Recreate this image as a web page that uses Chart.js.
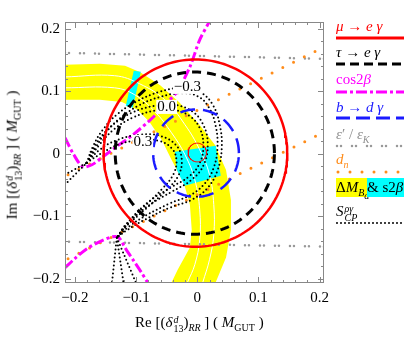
<!DOCTYPE html>
<html>
<head>
<meta charset="utf-8">
<script src="https://cdn.jsdelivr.net/npm/chart.js@4/dist/chart.umd.min.js"></script>
<style>
html, body { margin: 0; padding: 0; background: #fff; }
#wrap { position: relative; width: 406px; height: 343px; font-family: "Liberation Serif", "DejaVu Serif", serif; }
#wrap canvas { position: absolute; left: 0; top: 0; }
.lg { position: absolute; left: 336px; font-size: 15px; line-height: 16px; white-space: nowrap; }
.st { display: inline-flex; flex-direction: column; vertical-align: middle; font-size: 10px; line-height: 9px; margin-left: 1px; }
.ax { position: absolute; font-size: 15px; white-space: nowrap; }
sub, sup { font-size: 10px; line-height: 0; }
i { font-style: italic; }
</style>
</head>
<body>
<div id="wrap">
  <canvas id="grafico" width="406" height="343"></canvas>

  <div class="ax" style="left:135px;top:314px;">Re [(<i>δ</i><span class="st"><i>d</i><span>13</span></span>)<sub><i>RR</i></sub> ] ( <i>M</i><sub>GUT</sub> )</div>
  <div class="ax" style="left:13px;top:155px;transform:translate(-50%,-50%) rotate(-90deg);">Im [(<i>δ</i><span class="st"><i>d</i><span>13</span></span>)<sub><i>RR</i></sub> ] ( <i>M</i><sub>GUT</sub> )</div>

  <div class="lg" style="top:18px;color:#ff0000;"><i>μ</i> → <i>e γ</i></div>
  <div class="lg" style="top:44px;color:#000;"><i>τ</i> → <i>e γ</i></div>
  <div class="lg" style="top:71px;color:#ff00ff;">cos2<i>β</i></div>
  <div class="lg" style="top:99px;color:#1a1aff;"><i>b</i> → <i>d γ</i></div>
  <div class="lg" style="top:126px;color:#909090;"><i>ε</i>′ / <i>ε</i><sub><i>K</i></sub></div>
  <div class="lg" style="top:151px;color:#ff8c1a;"><i>d</i><sub><i>n</i></sub></div>
  <div class="lg" style="top:178px;height:19px;line-height:19px;"><span style="display:inline-block;width:31px;background:#ffff00;">Δ<i>M</i><sub><i>B<sub>d</sub></i></sub></span><span style="display:inline-block;width:37px;background:#00ffff;">&amp; s2<i>β</i></span></div>
  <div class="lg" style="top:203px;color:#000;"><i>S</i><span class="st"><i>ργ</i><i>CP</i></span></div>

  <svg style="position:absolute;left:0;top:0;" width="406" height="343">
    <line x1="336" y1="38" x2="404" y2="38" stroke="#ff0000" stroke-width="3"/>
    <line x1="336" y1="64" x2="404" y2="64" stroke="#000" stroke-width="3" stroke-dasharray="9 5"/>
    <line x1="336" y1="92" x2="404" y2="92" stroke="#ff00ff" stroke-width="3" stroke-dasharray="11 3 3 3"/>
    <line x1="336" y1="118" x2="404" y2="118" stroke="#1a1aff" stroke-width="3" stroke-dasharray="14 6"/>
    <line x1="337" y1="146" x2="404" y2="146" stroke="#999" stroke-width="2.5" stroke-linecap="round" stroke-dasharray="0 4 0 11"/>
    <line x1="338" y1="172" x2="404" y2="172" stroke="#ff8c1a" stroke-width="3" stroke-linecap="round" stroke-dasharray="0 12"/>
    <line x1="337" y1="223" x2="404" y2="223" stroke="#000" stroke-width="2" stroke-linecap="round" stroke-dasharray="0 4"/>
  </svg>
</div>

<script>
// eixos
var xTicks = [-0.2, -0.1, 0, 0.1, 0.2];
var yTicks = [-0.2, -0.1, 0, 0.1, 0.2];
var tickText = ['\u22120.2', '\u22120.1', '0', '0.1', '0.2'];
var xRange = [-0.216, 0.207];
var yRange = [-0.207, 0.211];

// limites circulares (centro x, centro y, raio)
var muEgCircle = [-0.003, 0.001, 0.15];
var muEgSmall = [0.0, 0.002, 0.015];
var tauEgCircle = [-0.004, 0.001, 0.13];
var bdgCircle = [-0.002, 0.001, 0.07];

// eps'/eps_K
var epsTop = [{x: -0.216, y: 0.1616}, {x: 0.207, y: 0.152}];
var epsBottom = [{x: -0.216, y: -0.1408}, {x: 0.207, y: -0.1488}];

// d_n
var dnLine1 = [{x: -0.211, y: -0.0336}, {x: 0.205, y: 0.170}];
var dnLine2 = [{x: -0.211, y: -0.168}, {x: 0.205, y: 0.0336}];

// cos2beta
var cosUpper = [
    {x: -0.216, y: 0.0256}, {x: -0.2016, y: -0.0016}, {x: -0.187, y: -0.0208}, {x: -0.172, y: -0.0176},
    {x: -0.154, y: -0.0048}, {x: -0.130, y: 0.0128}, {x: -0.105, y: 0.0304}, {x: -0.073, y: 0.0576},
    {x: -0.050, y: 0.0816}, {x: -0.033, y: 0.0992}, {x: -0.012, y: 0.1392}, {x: 0.004, y: 0.1824},
    {x: 0.0195, y: 0.2112}
];
var cosLower = [
    {x: -0.216, y: -0.1824}, {x: -0.2, y: -0.168}, {x: -0.180, y: -0.152}, {x: -0.159, y: -0.1408},
    {x: -0.138, y: -0.1328}, {x: -0.128, y: -0.1344}, {x: -0.117, y: -0.152}, {x: -0.104, y: -0.1712},
    {x: -0.091, y: -0.1904}, {x: -0.079, y: -0.2096}
];

// Delta M_Bd (faixa amarela) e s2beta (ciano)
var bandOuter = [
    {x: -0.216, y: 0.1424}, {x: -0.159, y: 0.144}, {x: -0.118, y: 0.141}, {x: -0.094, y: 0.131},
    {x: -0.061, y: 0.110}, {x: -0.029, y: 0.082}, {x: 0.004, y: 0.046}, {x: 0.029, y: 0.014},
    {x: 0.047, y: -0.026}, {x: 0.055, y: -0.074}, {x: 0.055, y: -0.122}, {x: 0.047, y: -0.166},
    {x: 0.030, y: -0.206}
];
var bandInner = [
    {x: -0.216, y: 0.0864}, {x: -0.159, y: 0.0864}, {x: -0.123, y: 0.083}, {x: -0.097, y: 0.070},
    {x: -0.078, y: 0.051}, {x: -0.058, y: 0.022}, {x: -0.042, y: -0.0096}, {x: -0.022, y: -0.0464},
    {x: -0.012, y: -0.0816}, {x: -0.009, y: -0.122}, {x: -0.012, y: -0.150}, {x: -0.032, y: -0.1856},
    {x: -0.042, y: -0.206}
];
var bandWhiteA = [
    {x: -0.216, y: 0.123}, {x: -0.135, y: 0.125}, {x: -0.094, y: 0.112}, {x: -0.053, y: 0.0864},
    {x: -0.020, y: 0.0464}, {x: 0.004, y: 0.0064}, {x: 0.020, y: -0.0336}, {x: 0.027, y: -0.0816},
    {x: 0.027, y: -0.1296}, {x: 0.020, y: -0.1696}, {x: 0.009, y: -0.206}
];
var bandWhiteB = [
    {x: -0.216, y: 0.1056}, {x: -0.135, y: 0.1056}, {x: -0.102, y: 0.0944}, {x: -0.069, y: 0.0672},
    {x: -0.042, y: 0.0336}, {x: -0.020, y: -0.0016}, {x: -0.004, y: -0.0416}, {x: 0.004, y: -0.0896},
    {x: 0.004, y: -0.1376}, {x: -0.004, y: -0.1776}, {x: -0.016, y: -0.206}
];
var cyanCenter = [
    {x: -0.0367, y: 0.0032}, {x: 0.0302, y: 0.0128}, {x: 0.0384, y: -0.0352},
    {x: -0.0204, y: -0.0512}, {x: -0.0335, y: -0.0256}, {x: -0.0367, y: 0.0032}
];
var cyanLeft = [
    {x: -0.1037, y: 0.1328}, {x: -0.0922, y: 0.1312}, {x: -0.1053, y: 0.0736},
    {x: -0.1167, y: 0.0768}, {x: -0.1037, y: 0.1328}
];

// S_CP contornos (-0.3, 0.0, 0.3), cada um em duas linhas
var scpMinus03 = [
    {x: -0.1804, y: -0.0144}, {x: -0.1706, y: 0.0112}, {x: -0.1543, y: 0.0384}, {x: -0.1298, y: 0.064},
    {x: -0.0971, y: 0.0848}, {x: -0.0612, y: 0.0992}, {x: -0.0253, y: 0.1056}, {x: 0.0041, y: 0.0992},
    {x: 0.0253, y: 0.0784}, {x: 0.0367, y: 0.0464}, {x: 0.040, y: 0.0096}, {x: 0.0335, y: -0.0256},
    {x: 0.0171, y: -0.0544}, {x: -0.009, y: -0.0736}, {x: -0.0449, y: -0.0864}, {x: -0.0857, y: -0.1056},
    {x: -0.1135, y: -0.1216}, {x: -0.1314, y: -0.1344}
];
var scpMinus03b = [
    {x: -0.1804, y: -0.0144}, {x: -0.166, y: 0.010}, {x: -0.150, y: 0.033}, {x: -0.126, y: 0.057},
    {x: -0.096, y: 0.077}, {x: -0.061, y: 0.091}, {x: -0.026, y: 0.097}, {x: 0.001, y: 0.092},
    {x: 0.019, y: 0.074}, {x: 0.030, y: 0.045}, {x: 0.033, y: 0.010}, {x: 0.027, y: -0.022},
    {x: 0.012, y: -0.048}, {x: -0.011, y: -0.066}, {x: -0.046, y: -0.080}, {x: -0.084, y: -0.099},
    {x: -0.112, y: -0.117}, {x: -0.1314, y: -0.1344}
];
var scpZero = [
    {x: -0.1804, y: -0.0144}, {x: -0.1641, y: 0.0176}, {x: -0.1396, y: 0.0448}, {x: -0.1069, y: 0.0656},
    {x: -0.0694, y: 0.0768}, {x: -0.0367, y: 0.0784}, {x: -0.0073, y: 0.0672}, {x: 0.0106, y: 0.0448},
    {x: 0.0171, y: 0.0144}, {x: 0.0106, y: -0.0176}, {x: -0.009, y: -0.0416}, {x: -0.0416, y: -0.0608},
    {x: -0.0776, y: -0.0816}, {x: -0.1102, y: -0.1088}, {x: -0.1314, y: -0.1344}
];
var scpZeroB = [
    {x: -0.1804, y: -0.0144}, {x: -0.160, y: 0.014}, {x: -0.136, y: 0.039}, {x: -0.105, y: 0.058},
    {x: -0.069, y: 0.069}, {x: -0.038, y: 0.070}, {x: -0.012, y: 0.060}, {x: 0.004, y: 0.041},
    {x: 0.010, y: 0.013}, {x: 0.004, y: -0.015}, {x: -0.013, y: -0.036}, {x: -0.043, y: -0.054},
    {x: -0.077, y: -0.075}, {x: -0.108, y: -0.104}, {x: -0.1314, y: -0.1344}
];
var scpPlus03 = [
    {x: -0.1804, y: -0.0144}, {x: -0.1592, y: 0.0064}, {x: -0.1298, y: 0.0224}, {x: -0.0939, y: 0.0304},
    {x: -0.0612, y: 0.0288}, {x: -0.0351, y: 0.0144}, {x: -0.0253, y: -0.0096}, {x: -0.0318, y: -0.0368},
    {x: -0.0531, y: -0.0608}, {x: -0.0857, y: -0.0896}, {x: -0.1184, y: -0.1184}, {x: -0.1314, y: -0.1344}
];
var scpPlus03b = [
    {x: -0.1804, y: -0.0144}, {x: -0.156, y: 0.001}, {x: -0.128, y: 0.015}, {x: -0.094, y: 0.022},
    {x: -0.064, y: 0.021}, {x: -0.042, y: 0.009}, {x: -0.034, y: -0.010}, {x: -0.039, y: -0.033},
    {x: -0.057, y: -0.056}, {x: -0.087, y: -0.085}, {x: -0.118, y: -0.115}, {x: -0.1314, y: -0.1344}
];
var scpLeftA = [{x: -0.2163, y: -0.0496}, {x: -0.1804, y: -0.0144}];
var scpLeftB = [{x: -0.2163, y: -0.0336}, {x: -0.1804, y: -0.0144}];
var scpBottomA = [{x: -0.1314, y: -0.1344}, {x: -0.1396, y: -0.2096}];
var scpBottomB = [{x: -0.1314, y: -0.1344}, {x: -0.12, y: -0.2096}];
var scpBottomC = [{x: -0.1314, y: -0.1344}, {x: -0.0988, y: -0.2096}];
var scpLabels = [
    {x: -0.016, y: 0.107, t: '\u22120.3'},
    {x: -0.050, y: 0.075, t: '0.0'},
    {x: -0.089, y: 0.019, t: '0.3'}
];

function circulo(c) {
    var pts = [];
    for (var i = 0; i <= 180; i++) {
        var a = i / 180 * 2 * Math.PI;
        pts.push({x: c[0] + c[2] * Math.cos(a), y: c[1] + c[2] * Math.sin(a)});
    }
    return pts;
}

function linha(pts, cor, largura, dash, extra) {
    var d = {
        data: pts, showLine: true, pointRadius: 0, borderColor: cor, borderWidth: largura,
        borderDash: dash || [], fill: false, borderCapStyle: 'round'
    };
    for (var k in extra || {}) d[k] = extra[k];
    return d;
}

function poligono(pts, cor) {
    return {data: pts, showLine: true, pointRadius: 0, borderWidth: 0, borderColor: cor,
        backgroundColor: cor, fill: 'shape'};
}

var faixa = bandOuter.concat(bandInner.slice().reverse());
faixa.push(bandOuter[0]);

var dotted = [0, 4];
var suave = {tension: 0.4};

// moldura com marcas para dentro
var moldura = {
    id: 'moldura',
    afterDatasetsDraw: function (chart) {
        var ctx = chart.ctx, a = chart.chartArea, sx = chart.scales.x, sy = chart.scales.y;
        ctx.save();
        ctx.strokeStyle = '#888';
        ctx.lineWidth = 1;
        ctx.strokeRect(a.left + 0.5, a.top + 0.5, a.right - a.left - 1, a.bottom - a.top - 1);
        ctx.beginPath();
        for (var v = -0.2; v <= 0.2001; v += 0.02) {
            var maior = Math.abs(v * 10 - Math.round(v * 10)) < 1e-6;
            var len = maior ? 6 : 3;
            var px = Math.round(sx.getPixelForValue(v)) + 0.5;
            ctx.moveTo(px, a.bottom); ctx.lineTo(px, a.bottom - len);
            ctx.moveTo(px, a.top); ctx.lineTo(px, a.top + len);
            var py = Math.round(sy.getPixelForValue(v)) + 0.5;
            ctx.moveTo(a.left, py); ctx.lineTo(a.left + len, py);
            ctx.moveTo(a.right, py); ctx.lineTo(a.right - len, py);
        }
        ctx.stroke();
        // rotulos dos contornos de S_CP
        ctx.font = '15px "Liberation Serif"';
        ctx.textAlign = 'center';
        ctx.textBaseline = 'middle';
        scpLabels.forEach(function (l) {
            var x = sx.getPixelForValue(l.x), y = sy.getPixelForValue(l.y);
            var w = ctx.measureText(l.t).width;
            ctx.fillStyle = '#fff';
            ctx.fillRect(x - w / 2 - 1, y - 7, w + 2, 14);
            ctx.fillStyle = '#000';
            ctx.fillText(l.t, x, y);
        });
        ctx.restore();
    }
};

var ctx = document.getElementById('grafico');
var grafico = new Chart(ctx, {
    type: 'scatter',
    data: {
        datasets: [
            linha(circulo(muEgCircle), '#ff0000', 2.5),
            linha(circulo(muEgSmall), '#ff0000', 1),
            linha(circulo(tauEgCircle), '#000000', 3, [9, 6], {borderCapStyle: 'butt'}),
            linha(circulo(bdgCircle), '#1a1aff', 2.5, [15, 8], {borderCapStyle: 'butt'}),
            linha(scpMinus03, '#000', 2, dotted, suave),
            linha(scpMinus03b, '#000', 2, dotted, suave),
            linha(scpZero, '#000', 2, dotted, suave),
            linha(scpZeroB, '#000', 2, dotted, suave),
            linha(scpPlus03, '#000', 2, dotted, suave),
            linha(scpPlus03b, '#000', 2, dotted, suave),
            linha(scpLeftA, '#000', 2, dotted),
            linha(scpLeftB, '#000', 2, dotted),
            linha(scpBottomA, '#000', 2, dotted),
            linha(scpBottomB, '#000', 2, dotted),
            linha(scpBottomC, '#000', 2, dotted),
            linha(cosUpper, '#ff00ff', 3, [10, 3, 3, 3], {borderCapStyle: 'butt', tension: 0.3}),
            linha(cosLower, '#ff00ff', 3, [10, 3, 3, 3], {borderCapStyle: 'butt', tension: 0.3}),
            linha(dnLine1, '#ff8c1a', 3, [0, 12]),
            linha(dnLine2, '#ff8c1a', 3, [0, 12]),
            linha(epsTop, '#999', 2.5, [0, 4, 0, 11]),
            linha(epsBottom, '#999', 2.5, [0, 4, 0, 11]),
            linha(bandWhiteA, '#ffffff', 1, [], suave),
            linha(bandWhiteB, '#ffffff', 1, [], suave),
            poligono(cyanCenter, '#00ffff'),
            poligono(cyanLeft, '#00ffff'),
            poligono(faixa, '#ffff00')
        ]
    },
    options: {
        responsive: false,
        animation: false,
        devicePixelRatio: 1,
        layout: {padding: {left: 0, right: 82, top: 22, bottom: 0}},
        plugins: {legend: {display: false}, tooltip: {enabled: false}},
        scales: {
            x: {
                min: xRange[0], max: xRange[1],
                afterBuildTicks: function (s) { s.ticks = xTicks.map(function (v) { return {value: v}; }); },
                afterFit: function (s) { s.height = 60; },
                grid: {display: false, drawTicks: false},
                border: {display: false},
                ticks: {
                    padding: 6, color: '#000', maxRotation: 0,
                    font: {family: 'Liberation Serif', size: 15},
                    callback: function (v, i) { return tickText[i]; }
                }
            },
            y: {
                min: yRange[0], max: yRange[1],
                afterBuildTicks: function (s) { s.ticks = yTicks.map(function (v) { return {value: v}; }); },
                afterFit: function (s) { s.width = 65; },
                grid: {display: false, drawTicks: false},
                border: {display: false},
                ticks: {
                    padding: 5, color: '#000',
                    font: {family: 'Liberation Serif', size: 15},
                    callback: function (v, i) { return tickText[i]; }
                }
            }
        }
    },
    plugins: [moldura]
});
</script>
</body>
</html>
